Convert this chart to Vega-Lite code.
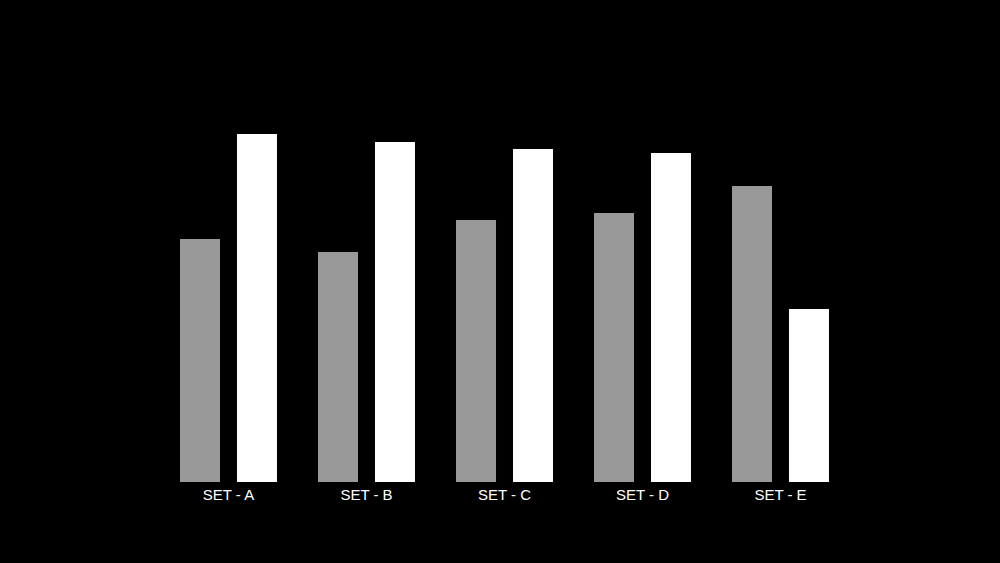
{
  "$schema": "https://vega.github.io/schema/vega-lite/v6.json",
  "autosize": {"type": "none"},
  "width": 690,
  "height": 349,
  "padding": {"left": 159.5, "top": 133, "right": 150.5, "bottom": 81},
  "background": "#000000",
  "config": {"view": {"stroke": null}},
  "data": {
    "values": [
      {"set": "SET - A", "series": "1", "value": 69.6},
      {"set": "SET - A", "series": "2", "value": 99.7},
      {"set": "SET - B", "series": "1", "value": 65.9},
      {"set": "SET - B", "series": "2", "value": 97.4},
      {"set": "SET - C", "series": "1", "value": 75.1},
      {"set": "SET - C", "series": "2", "value": 95.4},
      {"set": "SET - D", "series": "1", "value": 77.1},
      {"set": "SET - D", "series": "2", "value": 94.3},
      {"set": "SET - E", "series": "1", "value": 84.8},
      {"set": "SET - E", "series": "2", "value": 49.6}
    ]
  },
  "mark": {"type": "bar"},
  "encoding": {
    "x": {
      "field": "set",
      "type": "nominal",
      "scale": {"paddingInner": 0, "paddingOuter": 0},
      "axis": {
        "title": null,
        "labelAngle": 0,
        "labelColor": "#ffffff",
        "labelFont": "Liberation Sans",
        "labelFontSize": 15,
        "labelPadding": 5,
        "domain": false,
        "ticks": false,
        "grid": false
      }
    },
    "xOffset": {
      "field": "series",
      "type": "nominal",
      "scale": {"paddingInner": 0.298, "paddingOuter": 0.36}
    },
    "y": {
      "field": "value",
      "type": "quantitative",
      "scale": {"domain": [0, 100], "nice": false},
      "axis": null
    },
    "color": {
      "field": "series",
      "type": "nominal",
      "scale": {"domain": ["1", "2"], "range": ["#999999", "#ffffff"]},
      "legend": null
    }
  }
}
